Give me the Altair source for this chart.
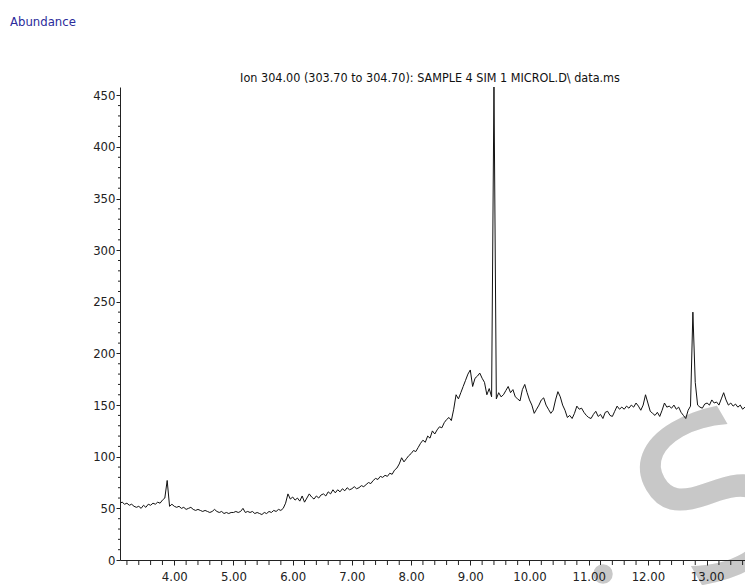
import altair as alt
import pandas as pd

STEP = 0.04
seg_a_start = 3.08
seg_a = [55, 56, 54, 55, 53, 54, 52, 51, 52, 50,
         53, 51, 54, 53, 55, 54, 56, 55, 58, 60,
         77, 52, 54, 52, 51, 52, 50, 51, 49, 50,
         51, 49, 48, 49, 48, 47, 48, 47, 46, 47,
         49, 47, 46, 47, 45, 46, 45, 46]
seg_b_start = 5.00
seg_b = [46, 47, 46, 47, 50, 46, 47, 46, 47, 45,
         46, 45, 44, 46, 45, 47, 46, 48, 47, 49,
         48, 50, 55, 64, 59, 61, 58, 60, 57, 62,
         56, 60, 64, 61, 59, 62, 60, 63, 64, 62,
         66, 64, 68, 65, 68, 66, 69, 67, 70, 68]
seg_c_start = 7.00
seg_c = [69, 71, 69, 70, 72, 71, 73, 75, 74, 77,
         79, 78, 81, 80, 82, 81, 84, 83, 87, 89,
         93, 99, 95, 98, 101, 103, 106, 105, 109, 113,
         116, 114, 120, 118, 125, 122, 126, 129, 128, 133,
         136, 138, 135, 146, 160, 156, 162, 168, 174, 180]
seg_d_start = 9.00
seg_d = [184, 168, 176, 178, 181, 176, 172, 160, 166, 158,
         460, 156, 162, 158, 160, 164, 168, 162, 165, 158,
         156, 154, 165, 170, 162, 155, 150, 142, 146, 150,
         155, 157, 150, 146, 142, 145, 155, 163, 158, 150,
         145, 138, 140, 137, 142, 149, 146, 147, 143, 140]
seg_e_start = 11.00
seg_e = [138, 137, 141, 144, 139, 141, 137, 143, 144, 140,
         139, 144, 149, 146, 148, 146, 149, 147, 150, 148,
         152, 149, 145, 150, 160, 152, 144, 142, 140, 143,
         139, 145, 152, 148, 149, 147, 150, 146, 148, 143,
         140, 137, 145, 149, 240, 172, 150, 148, 147, 151]
seg_f_start = 13.00
seg_f = [152, 150, 155, 152, 153, 150, 156, 162, 155, 150,
         152, 149, 151, 148, 150, 146, 148, 145, 149, 147]

x_major = [4, 5, 6, 7, 8, 9, 10, 11, 12, 13]
x_minor = [3.2, 3.4, 3.6, 3.8, 4.2, 4.4, 4.6, 4.8, 5.2, 5.4, 5.6, 5.8,
           6.2, 6.4, 6.6, 6.8, 7.2, 7.4, 7.6, 7.8, 8.2, 8.4, 8.6, 8.8,
           9.2, 9.4, 9.6, 9.8, 10.2, 10.4, 10.6, 10.8, 11.2, 11.4, 11.6, 11.8,
           12.2, 12.4, 12.6, 12.8, 13.2, 13.4, 13.6]
y_major = [0, 50, 100, 150, 200, 250, 300, 350, 400, 450]
y_minor = [v for v in range(10, 460, 10) if v % 50 != 0]

TITLE = "Ion 304.00 (303.70 to 304.70): SAMPLE 4 SIM 1 MICROL.D\\ data.ms"
YLABEL = "Abundance"

rows = []
for start, vals in [(seg_a_start, seg_a), (seg_b_start, seg_b), (seg_c_start, seg_c),
                    (seg_d_start, seg_d), (seg_e_start, seg_e), (seg_f_start, seg_f)]:
    for i, v in enumerate(vals):
        rows.append({"t": round(start + i * STEP, 2), "v": v})
df = pd.DataFrame(rows)

FONT = "Liberation Sans Narrow, DejaVu Sans Condensed, Arial Narrow, sans-serif"
W, H = 625, 473
xscale = alt.Scale(domain=[3.083, 3.083 + W / 59.2], nice=False, zero=False)
yscale = alt.Scale(domain=[0, 458], nice=False)

line = alt.Chart(df).mark_line(color="#111111", strokeWidth=1, clip=True).encode(
    x=alt.X("t:Q", scale=xscale,
            axis=alt.Axis(values=x_major, format=".2f", title=None, grid=False,
                          tickSize=5, tickColor="#222", domainColor="#222",
                          labelFont=FONT, labelFontSize=13, labelColor="#222",
                          labelPadding=5, labelFlush=False, zindex=1)),
    y=alt.Y("v:Q", scale=yscale,
            axis=alt.Axis(values=y_major, title=None, grid=False,
                          tickSize=4, tickColor="#222", domainColor="#222",
                          labelFont=FONT, labelFontSize=13, labelColor="#222",
                          labelPadding=1, zindex=1)),
)

xminor = alt.Chart(pd.DataFrame({"m": x_minor})).mark_rule(color="#222", strokeWidth=1).encode(
    x=alt.X("m:Q", scale=xscale),
    y=alt.value(H), y2=alt.value(H + 5),
)
yminor = alt.Chart(pd.DataFrame({"m": y_minor})).mark_rule(color="#222", strokeWidth=1).encode(
    y=alt.Y("m:Q", scale=yscale),
    x=alt.value(-2), x2=alt.value(0),
)

title = alt.Chart(pd.DataFrame({"s": [TITLE]})).mark_text(
    font=FONT, fontSize=12.5, color="#111", align="center", baseline="alphabetic"
).encode(x=alt.value(310), y=alt.value(-5), text="s:N")

ylab = alt.Chart(pd.DataFrame({"s": [YLABEL]})).mark_text(
    font=FONT, fontSize=13, color="#2b2b9b", align="left", baseline="alphabetic"
).encode(x=alt.value(-110), y=alt.value(-61), text="s:N")

wm = alt.Chart(pd.DataFrame({"s": ["S"]})).mark_text(
    font="DejaVu Sans", fontSize=220, color="#c8c8c8",
    align="center", baseline="middle", angle=330
).encode(x=alt.value(600), y=alt.value(420), text="s:N")

dot = alt.Chart(pd.DataFrame({"s": [1]})).mark_point(
    filled=True, color="#c8c8c8", opacity=1, size=380, shape="circle"
).encode(x=alt.value(483), y=alt.value(487))

chart = alt.layer(wm, dot, xminor, yminor, line, title, ylab).properties(
    width=W, height=H,
    autosize=alt.AutoSizeParams(type="none"),
    padding={"left": 112, "top": 79, "right": 0, "bottom": 25},
    background="white",
).configure_view(stroke=None)

chart.save("out.html", embed_options={"renderer": "svg", "actions": False})
